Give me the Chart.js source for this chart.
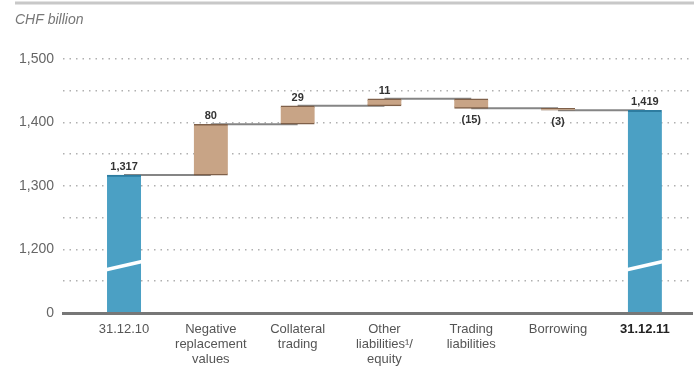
<!DOCTYPE html>
<html lang="en">
<head>
<meta charset="UTF-8">
<title>CHF billion</title>
<script src="https://cdn.jsdelivr.net/npm/chart.js"></script>
<style>
  body { margin: 0; background: #fff; }
  .wrap { width: 694px; height: 381px; }
</style>
</head>
<body>
<div class="wrap"><canvas id="chart"></canvas></div>
<script>
// data
const categories = [
  ['31.12.10'],
  ['Negative', 'replacement', 'values'],
  ['Collateral', 'trading'],
  ['Other', 'liabilities\u00b9/', 'equity'],
  ['Trading', 'liabilities'],
  ['Borrowing'],
  ['31.12.11']
];
const openTotal = 1317;
const changes = [80, 29, 11, -15, -3];
const closeTotal = 1419;

// broken axis: bottom of the axis reads 0
const yLabelValues = [1100, 1200, 1300, 1400, 1500];
const yLabels = ['0', '1,200', '1,300', '1,400', '1,500'];
const yGridValues = [1150, 1250, 1350, 1450];

const BLUE = '#4ba0c4', BLUE_EDGE = '#2d7ca0';
const TAN = '#c8a486', TAN_EDGE = '#7f6049';
const FONT = "'Liberation Sans', Arial, sans-serif";

// running levels
const levels = [openTotal];
changes.forEach(c => levels.push(levels[levels.length - 1] + c));

const barData = [{ x: 0, y: [0, openTotal] }];
changes.forEach((c, i) => barData.push({ x: i + 1, y: [levels[i], levels[i + 1]] }));
barData.push({ x: categories.length - 1, y: [0, closeTotal] });

const isTotal = i => i === 0 || i === categories.length - 1;

const barText = barData.map((d, i) => {
  if (isTotal(i)) return d.y[1].toLocaleString('en-US');
  const c = changes[i - 1];
  return c < 0 ? '(' + Math.abs(c) + ')' : String(c);
});

// connectors between bars
const connector = [];
levels.forEach((lv, i) => {
  connector.push({ x: i, y: lv }, { x: i + 1, y: lv }, { x: i + 1.5, y: null });
});

const extras = {
  id: 'extras',
  beforeDraw(chart) {
    const ctx = chart.ctx;
    ctx.save();
    ctx.strokeStyle = '#c8c8c8';
    ctx.lineWidth = 3;
    ctx.beginPath();
    ctx.moveTo(15, 3);
    ctx.lineTo(chart.width, 3);
    ctx.stroke();
    ctx.restore();
  },
  afterDatasetsDraw(chart) {
    const ctx = chart.ctx;
    const ys = chart.scales.y;
    const meta = chart.getDatasetMeta(0);
    ctx.save();
    meta.data.forEach((bar, i) => {
      const w = bar.width;
      const lo = Math.min(...barData[i].y), hi = Math.max(...barData[i].y);
      // break marks on the total bars
      if (isTotal(i)) {
        ctx.strokeStyle = '#fff';
        ctx.lineWidth = 3.5;
        ctx.beginPath();
        ctx.moveTo(bar.x - w / 2 - 1, ys.getPixelForValue(1168));
        ctx.lineTo(bar.x + w / 2 + 1, ys.getPixelForValue(1181));
        ctx.stroke();
      }
      ctx.fillStyle = '#333';
      ctx.font = 'bold 11px ' + FONT;
      ctx.textAlign = 'center';
      ctx.textBaseline = 'middle';
      const neg = !isTotal(i) && changes[i - 1] < 0;
      const y = neg ? ys.getPixelForValue(lo) + 12 : ys.getPixelForValue(hi) - 8;
      ctx.fillText(barText[i], bar.x, y);
    });
    ctx.restore();
  }
};

new Chart(document.getElementById('chart'), {
  data: {
    datasets: [{
      type: 'bar',
      data: barData,
      order: 0,
      barThickness: 34,
      backgroundColor: ctx => isTotal(ctx.dataIndex) ? BLUE : TAN,
      borderColor: ctx => isTotal(ctx.dataIndex) ? BLUE_EDGE : TAN_EDGE,
      borderWidth: ctx => isTotal(ctx.dataIndex)
        ? { top: 2, bottom: 0, left: 0, right: 0 }
        : { top: 1.5, bottom: 1.5, left: 0, right: 0 },
      borderSkipped: false
    }, {
      type: 'line',
      data: connector,
      order: 1,
      borderColor: '#858585',
      borderWidth: 2,
      pointRadius: 0,
      spanGaps: false
    }]
  },
  options: {
    responsive: true,
    maintainAspectRatio: false,
    animation: false,
    layout: { padding: { left: 15, right: 2, top: 0, bottom: 0 } },
    plugins: {
      legend: { display: false },
      tooltip: { enabled: false },
      title: {
        display: true,
        text: 'CHF billion',
        align: 'start',
        color: '#777',
        font: { family: FONT, size: 14, style: 'italic', weight: 'normal' },
        padding: { top: 12, bottom: 30 }
      }
    },
    scales: {
      x: {
        type: 'linear',
        offset: false,
        min: -0.703,
        max: 6.543,
        afterBuildTicks: s => { s.ticks = categories.map((c, i) => ({ value: i })); },
        afterFit: s => { s.height = 68; },
        grid: { display: false, drawTicks: false },
        border: { display: true, color: '#777', width: 3, z: 1 },
        ticks: {
          autoSkip: false,
          maxRotation: 0,
          padding: 9,
          color: ctx => ctx.index === categories.length - 1 ? '#222' : '#555',
          font: ctx => ({ family: FONT, size: 13, weight: ctx.index === categories.length - 1 ? 'bold' : 'normal', lineHeight: 1.15 }),
          callback: v => categories[v]
        }
      },
      y: {
        min: 1100,
        max: 1500,
        afterBuildTicks: s => {
          s.ticks = yLabelValues.concat(yGridValues).sort((a, b) => a - b).map(v => ({ value: v }));
        },
        afterFit: s => { s.width = 48; },
        grid: {
          drawTicks: false,
          color: ctx => ctx.tick && ctx.tick.value === 1100 ? 'rgba(0,0,0,0)' : '#b0b0b0',
          lineWidth: 1.5
        },
        border: { display: false, dash: [1.5, 5] },
        ticks: {
          padding: 9,
          color: '#666',
          font: { family: FONT, size: 14 },
          callback: v => {
            const k = yLabelValues.indexOf(v);
            return k >= 0 ? yLabels[k] : '';
          }
        }
      }
    }
  },
  plugins: [extras]
});
</script>
</body>
</html>
